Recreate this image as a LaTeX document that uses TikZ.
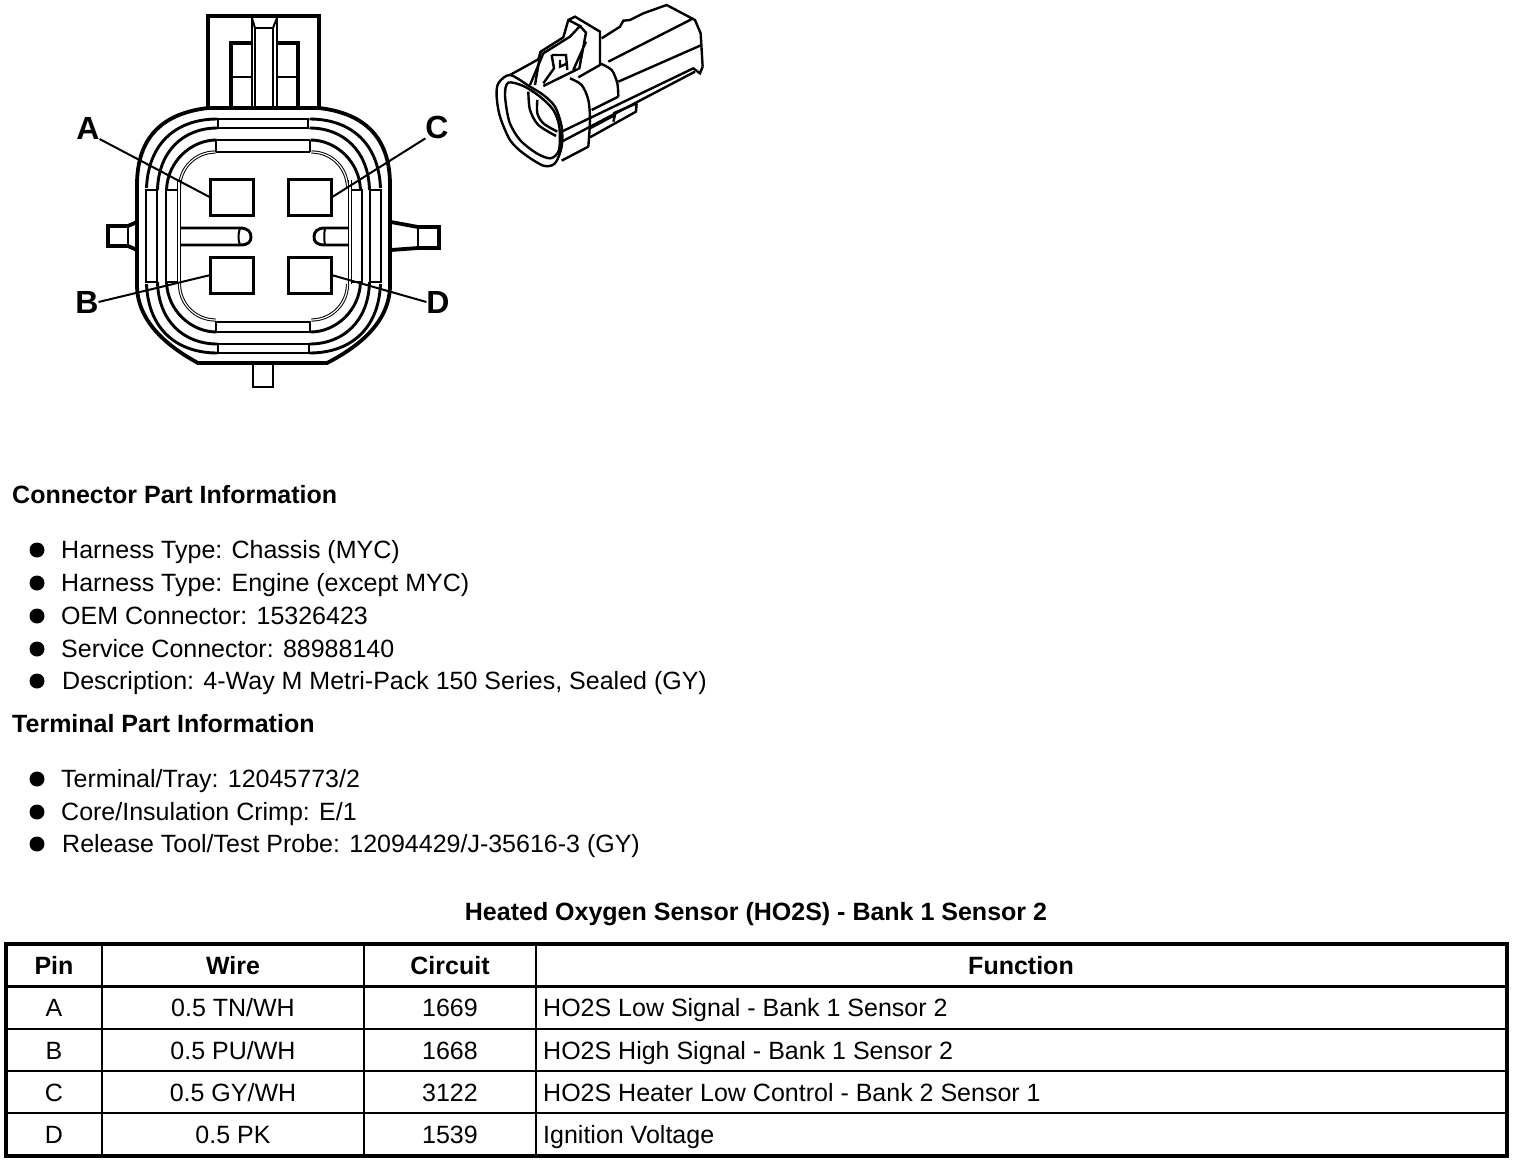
\documentclass[tikz,border=0pt]{standalone}
\usepackage{fontspec}
\setmainfont{Liberation Sans}
\tikzset{
	heavy/.style={line width=3.8pt,line join=miter},
	medium/.style={line width=2.9pt},
	fineline/.style={line width=2pt},
	hair/.style={draw=black,double=white,line width=1pt,double distance=1.2pt},
	pinbox/.style={draw,line width=3pt,minimum width=43pt,minimum height=36pt,inner sep=0pt,outer sep=0pt},
	pinlabel/.style={font=\fontsize{32}{32}\selectfont\bfseries,inner sep=0pt,outer sep=0pt},
	bodytext/.style={font=\fontsize{25}{29}\selectfont,anchor=base west,inner sep=0pt},
	celltext/.style={font=\fontsize{25}{29}\selectfont,anchor=base,inner sep=0pt},
	headtext/.style={font=\fontsize{25}{29}\selectfont\bfseries,anchor=base,inner sep=0pt},
	titletext/.style={font=\fontsize{25}{29}\selectfont\bfseries,anchor=base west,inner sep=0pt},
}
\begin{document}
\begin{tikzpicture}[x=1pt,y=-1pt]
	\useasboundingbox (0,0) rectangle (1520,1162);
	\coordinate (Center) at (263.5,236);

	% top latch
	\draw[heavy] (208,108) -- (208,16) -- (319,16) -- (319,108);
	\draw[fineline] (252,108) -- (252,16) (277,108) -- (277,16) (255,108) -- (255,28) -- (273,28) -- (273,108);
	\draw[fineline] (252,18) -- (255,28) (277,18) -- (273,28);
	\draw[heavy] (231,108) -- (231,43) -- (252,43) (277,43) -- (298,43) -- (298,108);
	\draw[medium] (232,77) -- (252,77) (277,77) -- (297,77);

	% outer body and tabs
	\draw[heavy] (208,108) .. controls (165,113) and (137,135) .. (137,185) -- (137,285) .. controls (137,320) and (165,345) .. (198,363)
		-- (327,363) .. controls (362,345) and (390,320) .. (390,285) -- (390,185) .. controls (390,135) and (362,113) .. (319,108) -- cycle;
	\draw[heavy] (137,222) -- (128,226) -- (108,226) -- (108,246) -- (128,246) -- (137,250);
	\draw[fineline] (128,226) -- (128,246);
	\draw[heavy] (391,222) -- (418,227) -- (439,227) -- (439,248) -- (418,248) -- (391,250);
	\draw[fineline] (418,227) -- (418,248);
	\draw[medium] (253,363) -- (253,387) -- (273,387) -- (273,363);

	% the four corners of the seal rings
	\foreach \xs/\ys in {1/1,-1/1,1/-1,-1/-1}{
		\begin{scope}[shift={(Center)},xscale=\xs,yscale=\ys]
			\draw[medium] (-46,-117) .. controls (-85,-117) and (-115,-95) .. (-117,-48);
			\draw[medium] (-46,-108) .. controls (-80,-108) and (-105,-85) .. (-106,-46);
			\draw[medium] (-47,-96) .. controls (-72,-96) and (-96,-75) .. (-97,-46);
			\draw[hair] (-48,-84) .. controls (-68,-84) and (-84,-68) .. (-84,-48);
		\end{scope}
	}

	% bars and ribs
	\draw[medium] (218,119) rectangle (308,128);
	\draw[medium] (216,140) -- (216,152) (310,140) -- (310,152) (216,140) -- (310,140);
	\draw[fineline] (216,152) -- (310,152);
	\draw[medium] (218,344) rectangle (309,353);
	\draw[medium] (216,322) rectangle (310,332);
	\draw[medium] (157,282) -- (146,282) -- (146,190) -- (157,190) -- (157,282);
	\draw[medium] (178,282) -- (166,282) -- (166,190) -- (178,190);
	\draw[hair] (179,180) -- (179,284);
	\draw[medium] (352,282) -- (362,282) -- (362,190) -- (352,190);
	\draw[medium] (370,282) -- (381,282) -- (381,190) -- (370,190) -- cycle;
	\draw[hair] (350,180) -- (350,284);

	% keys between the pins
	\draw[medium] (180,228) -- (240,228) .. controls (248,228) and (251,232) .. (251,237) .. controls (251,242) and (248,245) .. (240,245) -- (180,245);
	\draw[fineline] (240,228) .. controls (238,234) and (238,240) .. (240,245);
	\draw[medium] (349,228) -- (325,228) .. controls (317,228) and (314,232) .. (314,237) .. controls (314,242) and (317,245) .. (325,245) -- (349,245);
	\draw[fineline] (325,228) .. controls (324,234) and (324,240) .. (325,245);

	% pins and their labels
	\node[pinbox,fill=white] (PinA) at (232,197.5) {};
	\node[pinbox,fill=white] (PinC) at (310,197.5) {};
	\node[pinbox,fill=white] (PinB) at (232,275) {};
	\node[pinbox,fill=white] (PinD) at (310,275) {};
	\node[pinlabel] (LabelA) at (88,128) {A};
	\node[pinlabel] (LabelC) at (437,127) {C};
	\node[pinlabel] (LabelB) at (87,302) {B};
	\node[pinlabel] (LabelD) at (438,302) {D};
	\draw[fineline] (LabelA.south east) -- (PinA.west);
	\draw[fineline] (LabelC.south west) -- (PinC.east);
	\draw[fineline] (LabelB.east) -- (PinB.west);
	\draw[fineline] (LabelD.west) -- (PinD.east);

	% the connector seen from the side
	\begin{scope}[shift={(480,0)},scale=0.3333,line width=2.4pt]
		\draw[smooth cycle] plot coordinates {(90,225) (55,250) (50,290) (60,350) (90,420) (130,460) (190,497) (225,490) (245,440) (245,380) (225,320) (190,285) (150,260)};
		\draw[smooth cycle] plot coordinates {(85,248) (75,285) (88,365) (120,420) (170,460) (212,475) (237,450) (238,380) (220,330) (180,290) (130,258)};
		\draw[smooth] plot coordinates {(145,275) (150,330) (175,375) (228,408)};
		\draw[smooth] plot coordinates {(172,300) (172,340) (190,370) (232,395)};
		\draw (90,225) -- (175,178) -- (182,155) -- (250,112) -- (265,60) -- (285,50) -- (360,95) -- (360,195) -- (295,232);
		\draw (265,60) -- (300,78) -- (270,110) -- (190,160) -- (150,255);
		\draw (182,155) -- (165,255) (300,78) -- (318,98) -- (298,205) -- (190,258) (318,125) -- (280,210);
		\draw (215,165) -- (258,165) -- (262,210) (215,165) -- (222,205) -- (190,250) (240,180) -- (240,200) -- (262,190);
		\draw[smooth] plot coordinates {(270,235) (305,255) (325,300) (330,360) (325,440)};
		\draw (325,440) -- (245,482) (245,395) -- (640,205) -- (660,220) -- (668,200);
		\draw (245,425) -- (645,215);
		\draw[smooth] plot coordinates {(360,190) (395,210) (412,250) (415,290)};
		\draw (385,185) -- (640,55) (365,115) -- (420,80) -- (430,62) -- (450,60) -- (490,40) -- (560,15) -- (645,60) -- (662,100) -- (668,200);
		\draw (415,245) -- (665,135) (335,330) -- (415,290);
		\draw (470,310) -- (468,335) -- (330,412) (400,340) -- (470,310) (330,385) -- (405,345) -- (400,365);
	\end{scope}

	% text blocks
	\node[titletext] (ConnectorHead) at (12,503) {Connector Part Information};
	\node[titletext] (TerminalHead) at (12,732) {Terminal Part Information};
	\foreach \itemname/\itemx/\itemy/\itemtext in {
		ItemA/61/558/{Harness Type: Chassis (MYC)},
		ItemB/61/591/{Harness Type: Engine (except MYC)},
		ItemC/61/624/{OEM Connector: 15326423},
		ItemD/61/657/{Service Connector: 88988140},
		ItemE/62/689/{Description: 4-Way M Metri-Pack 150 Series, Sealed (GY)},
		ItemF/61/787/{Terminal/Tray: 12045773/2},
		ItemG/61/820/{Core/Insulation Crimp: E/1},
		ItemH/62/852/{Release Tool/Test Probe: 12094429/J-35616-3 (GY)}}{
		\node[bodytext] (\itemname) at (\itemx,\itemy) {\itemtext};
		\fill (37,\itemy-8) circle (7.5);
	}

	% table
	\node[headtext] (TableTitle) at (756,920) {Heated Oxygen Sensor (HO2S) - Bank 1 Sensor 2};
	\draw[line width=3.6pt] (6,944) rectangle (1507,1156);
	\draw[medium] (102,944) -- (102,1156) (364,944) -- (364,1156);
	\draw[fineline] (536,944) -- (536,1156);
	\draw[line width=3pt] (6,986) -- (1507,986);
	\draw[fineline] (6,1028.5) -- (1507,1028.5) (6,1070.5) -- (1507,1070.5);
	\draw[medium] (6,1113) -- (1507,1113);
	\node[headtext] (HeadPin) at (54,974) {Pin};
	\node[headtext] (HeadWire) at (233,974) {Wire};
	\node[headtext] (HeadCircuit) at (450,974) {Circuit};
	\node[headtext] (HeadFunction) at (1021,974) {Function};
	\foreach \pinname/\wirename/\circuitname/\funcname/\rowy in {
		A/{0.5 TN/WH}/1669/{HO2S Low Signal - Bank 1 Sensor 2}/1016,
		B/{0.5 PU/WH}/1668/{HO2S High Signal - Bank 1 Sensor 2}/1059,
		C/{0.5 GY/WH}/3122/{HO2S Heater Low Control - Bank 2 Sensor 1}/1101,
		D/{0.5 PK}/1539/{Ignition Voltage}/1143}{
		\node[celltext] (Row\pinname) at (54,\rowy) {\pinname};
		\node[celltext] (Wire\pinname) at (233,\rowy) {\wirename};
		\node[celltext] (Circuit\pinname) at (450,\rowy) {\circuitname};
		\node[bodytext] (Func\pinname) at (543,\rowy) {\funcname};
	}
\end{tikzpicture}
\end{document}
